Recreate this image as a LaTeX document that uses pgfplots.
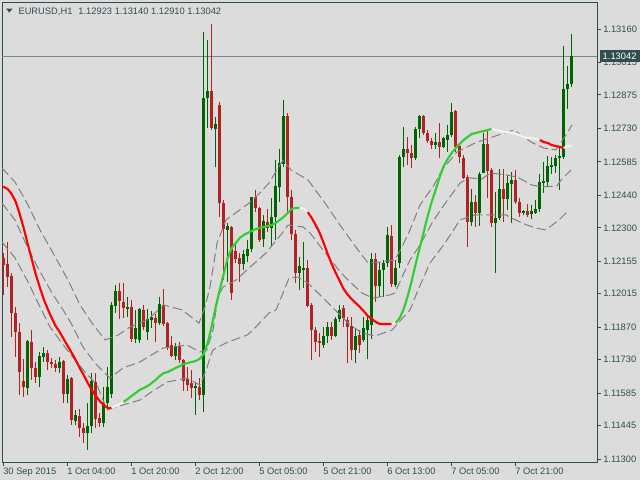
\documentclass[border=0pt]{standalone}
\usepackage{fontspec}
\setmainfont{Liberation Sans}
\usepackage{pgfplots}
\usepackage{pgfplotstable}
\pgfplotsset{compat=1.18}

\definecolor{chartbg}{HTML}{DCDCDC}
\definecolor{fg}{HTML}{2F4F4F}
\definecolor{bull}{HTML}{006400}
\definecolor{bear}{HTML}{B22222}
\definecolor{maup}{HTML}{32CD32}
\definecolor{madn}{HTML}{FF0000}
\definecolor{maflat}{HTML}{FAF0E6}
\definecolor{band}{HTML}{808080}
\definecolor{pline}{HTML}{778899}

% EURUSD H1 bars, index 0 = 30 Sep 2015 12:00
\pgfplotstableread{
i o h l c
6 1.11607 1.11815 1.11577 1.11810
9 1.11655 1.11763 1.11611 1.11746
10 1.11743 1.11784 1.11720 1.11759
14 1.11694 1.11741 1.11672 1.11720
16 1.11581 1.11663 1.11542 1.11646
18 1.11464 1.11512 1.11447 1.11490
21 1.11412 1.11542 1.11339 1.11443
22 1.11443 1.11672 1.11412 1.11637
25 1.11456 1.11611 1.11438 1.11542
26 1.11542 1.11698 1.11512 1.11611
27 1.11580 1.11979 1.11564 1.11966
28 1.11960 1.12053 1.11932 1.12027
31 1.11949 1.12001 1.11914 1.11958
33 1.11819 1.11945 1.11802 1.11867
34 1.11815 1.11953 1.11802 1.11949
36 1.11849 1.11949 1.11815 1.11906
37 1.11901 1.11940 1.11867 1.11914
39 1.11888 1.12001 1.11880 1.11971
43 1.11746 1.11802 1.11728 1.11789
48 1.11607 1.11633 1.11490 1.11616
50 1.11577 1.13147 1.11503 1.12862
51 1.12862 1.13113 1.12732 1.12892
53 1.12728 1.12779 1.12563 1.12749
56 1.12291 1.12321 1.12066 1.12308
60 1.12144 1.12204 1.12118 1.12187
61 1.12180 1.12247 1.12152 1.12209
62 1.12209 1.12435 1.12195 1.12433
65 1.12250 1.12356 1.12217 1.12330
67 1.12299 1.12429 1.12217 1.12347
68 1.12347 1.12593 1.12247 1.12481
69 1.12475 1.12641 1.12412 1.12580
70 1.12578 1.12853 1.12563 1.12784
74 1.12105 1.12174 1.12031 1.12135
75 1.12118 1.12239 1.12040 1.12126
80 1.11793 1.11871 1.11780 1.11832
81 1.11832 1.11893 1.11802 1.11871
83 1.11832 1.11914 1.11828 1.11906
84 1.11906 1.11966 1.11893 1.11945
88 1.11772 1.11867 1.11715 1.11832
90 1.11815 1.11914 1.11806 1.11867
91 1.11858 1.11914 1.11733 1.11901
92 1.11880 1.12191 1.11819 1.12165
94 1.12048 1.12152 1.12001 1.12118
95 1.12118 1.12161 1.12001 1.12148
96 1.12148 1.12304 1.12131 1.12269
98 1.12053 1.12161 1.12044 1.12126
99 1.12150 1.12615 1.12126 1.12606
100 1.12606 1.12736 1.12563 1.12641
103 1.12602 1.12736 1.12593 1.12728
104 1.12726 1.12788 1.12689 1.12784
108 1.12658 1.12710 1.12641 1.12671
110 1.12650 1.12693 1.12645 1.12689
111 1.12680 1.12745 1.12628 1.12702
112 1.12700 1.12840 1.12693 1.12801
117 1.12325 1.12468 1.12308 1.12412
119 1.12362 1.12542 1.12308 1.12533
120 1.12535 1.12710 1.12535 1.12663
123 1.12321 1.12455 1.12105 1.12343
124 1.12343 1.12555 1.12334 1.12468
126 1.12425 1.12529 1.12377 1.12494
127 1.12490 1.12542 1.12321 1.12507
130 1.12364 1.12377 1.12356 1.12373
132 1.12358 1.12399 1.12338 1.12373
133 1.12364 1.12420 1.12360 1.12382
134 1.12382 1.12533 1.12368 1.12498
135 1.12494 1.12585 1.12451 1.12503
136 1.12498 1.12611 1.12477 1.12567
137 1.12563 1.12606 1.12533 1.12572
138 1.12567 1.12615 1.12537 1.12602
139 1.12602 1.12645 1.12464 1.12611
140 1.12606 1.13087 1.12598 1.12901
141 1.12901 1.13000 1.12814 1.12923
142 1.12923 1.13140 1.12910 1.13042
}\bulls

\pgfplotstableread{
i o h l c
0 1.12170 1.12191 1.12010 1.12139
1 1.12144 1.12239 1.12044 1.12087
2 1.12090 1.12105 1.11828 1.11932
3 1.11932 1.11958 1.11741 1.11849
4 1.11851 1.11888 1.11577 1.11676
5 1.11637 1.11733 1.11568 1.11611
7 1.11806 1.11858 1.11642 1.11694
8 1.11694 1.11720 1.11629 1.11655
11 1.11759 1.11772 1.11685 1.11720
12 1.11720 1.11737 1.11694 1.11711
13 1.11711 1.11728 1.11676 1.11694
15 1.11724 1.11728 1.11542 1.11581
17 1.11650 1.11655 1.11447 1.11469
19 1.11488 1.11516 1.11395 1.11434
20 1.11434 1.11456 1.11369 1.11412
23 1.11633 1.11672 1.11434 1.11473
24 1.11477 1.11499 1.11438 1.11456
29 1.12027 1.12061 1.11906 1.11984
30 1.11979 1.12061 1.11910 1.11953
32 1.11958 1.11988 1.11806 1.11819
35 1.11945 1.11966 1.11858 1.11871
38 1.11910 1.11927 1.11806 1.11888
40 1.11966 1.12035 1.11875 1.11884
41 1.11888 1.11893 1.11772 1.11784
42 1.11793 1.11832 1.11741 1.11746
44 1.11789 1.11806 1.11715 1.11728
45 1.11728 1.11733 1.11594 1.11637
46 1.11646 1.11698 1.11594 1.11620
47 1.11629 1.11685 1.11564 1.11607
49 1.11611 1.11650 1.11555 1.11577
52 1.12892 1.13182 1.12725 1.12732
54 1.12831 1.12844 1.12347 1.12407
55 1.12407 1.12420 1.12074 1.12295
57 1.12304 1.12308 1.11988 1.12018
58 1.12200 1.12234 1.12148 1.12165
59 1.12170 1.12191 1.12066 1.12144
63 1.12433 1.12464 1.12368 1.12386
64 1.12386 1.12390 1.12239 1.12247
66 1.12327 1.12382 1.12282 1.12299
71 1.12784 1.12797 1.12368 1.12433
72 1.12435 1.12464 1.12247 1.12273
73 1.12273 1.12291 1.12061 1.12105
76 1.12126 1.12161 1.11958 1.11962
77 1.11966 1.11975 1.11728 1.11858
78 1.11860 1.11871 1.11763 1.11806
79 1.11810 1.11845 1.11741 1.11802
82 1.11871 1.11893 1.11815 1.11832
85 1.11953 1.11966 1.11871 1.11910
86 1.11901 1.11914 1.11715 1.11871
87 1.11875 1.11914 1.11728 1.11772
89 1.11836 1.11858 1.11759 1.11793
93 1.12165 1.12191 1.11979 1.12048
97 1.12265 1.12312 1.12044 1.12057
101 1.12641 1.12693 1.12572 1.12624
102 1.12624 1.12658 1.12559 1.12602
105 1.12784 1.12788 1.12702 1.12710
106 1.12712 1.12723 1.12667 1.12676
107 1.12676 1.12689 1.12641 1.12658
109 1.12671 1.12753 1.12602 1.12650
113 1.12805 1.12810 1.12628 1.12650
114 1.12654 1.12667 1.12580 1.12606
115 1.12602 1.12615 1.12511 1.12516
116 1.12520 1.12529 1.12217 1.12325
118 1.12412 1.12442 1.12304 1.12364
121 1.12663 1.12728 1.12429 1.12546
122 1.12550 1.12559 1.12304 1.12321
125 1.12470 1.12555 1.12325 1.12425
128 1.12507 1.12550 1.12403 1.12412
129 1.12412 1.12429 1.12347 1.12364
131 1.12373 1.12403 1.12347 1.12356
}\bears

\begin{document}
\begin{tikzpicture}[font=\fontsize{7}{8}\selectfont]
\useasboundingbox (0,0) rectangle (480pt,360pt);
\fill[chartbg] (0,0) rectangle (480pt,360pt);
\begin{axis}[
    at={(1.5pt,13.5pt)}, anchor=south west,
    scale only axis, width=446.25pt, height=345pt,
    xmin=-0.425, xmax=148.325,
    ymin=1.112871, ymax=1.132768,
    axis line style={fg, line width=0.75pt},
    xtick pos=left, ytick pos=right, yticklabel pos=right,
    tick align=outside, major tick length=3pt,
    tick style={fg, line width=0.75pt},
    xtick={0,16,32,48,64,80,96,112,128},
    xticklabels={30 Sep 2015,1 Oct 04:00,1 Oct 20:00,2 Oct 12:00,5 Oct 05:00,5 Oct 21:00,6 Oct 13:00,7 Oct 05:00,7 Oct 21:00},
    ytick={1.11300,1.11445,1.11585,1.11730,1.11870,1.12015,1.12155,1.12300,1.12440,1.12585,1.12730,1.12875,1.13015,1.13160},
    yticklabels={1.11300,1.11445,1.11585,1.11730,1.11870,1.12015,1.12155,1.12300,1.12440,1.12585,1.12730,1.12875,1.13015,1.13160},
    tick label style={text=fg, font=\fontsize{7}{8}\selectfont},
    xticklabel style={anchor=north west, inner sep=0pt, xshift=-0.5pt, yshift=-1pt},
    yticklabel style={anchor=west, inner sep=0pt, xshift=1.5pt},
]
% current price line
\addplot[pline, line width=0.75pt] coordinates {(-0.425,1.13042) (148.325,1.13042)};

% candles: wicks, then bodies
\addplot[bull, line width=0.75pt, quiver={u=0, v=\thisrow{h}-\thisrow{l}}] table[x=i, y=l] {\bulls};
\addplot[bear, line width=0.75pt, quiver={u=0, v=\thisrow{h}-\thisrow{l}}] table[x=i, y=l] {\bears};
\addplot[bull, line width=2.25pt, quiver={u=0, v=\thisrow{c}-\thisrow{o}}] table[x=i, y=o] {\bulls};
\addplot[bear, line width=2.25pt, quiver={u=0, v=\thisrow{c}-\thisrow{o}}] table[x=i, y=o] {\bears};

% bands
\addplot[band, line width=0.75pt, dash pattern=on 7pt off 3pt] coordinates {
(-0.43,1.12559) (2.83,1.12498) (5.83,1.12407) (9.08,1.12291) (12.33,1.12191) (16.08,1.12074)
(19.08,1.11966) (22.08,1.11888) (25.33,1.11815) (28.58,1.11836) (31.58,1.11871) (35.83,1.11901)
(40.08,1.11966) (44.58,1.11945) (48.83,1.11888) (50.33,1.11958) (51.58,1.12044) (53.33,1.12234)
(55.58,1.12334) (57.33,1.12356) (61.33,1.12407) (64.08,1.12451) (66.33,1.12494) (69.83,1.12593)
(71.83,1.12550) (76.08,1.12507) (80.33,1.12407) (84.08,1.12312) (88.58,1.12204) (91.08,1.12148)
(94.08,1.12152) (97.83,1.12161) (99.58,1.12217) (101.58,1.12291) (104.08,1.12399) (107.58,1.12485)
(109.58,1.12550) (113.33,1.12628) (117.83,1.12667) (121.58,1.12689) (125.08,1.12710) (127.58,1.12723)
(131.83,1.12671) (135.08,1.12645) (138.08,1.12637) (140.58,1.12702) (142.08,1.12745)};
\addplot[band, line width=0.75pt, dash pattern=on 7pt off 3pt] coordinates {
(-0.43,1.12407) (2.83,1.12334) (5.33,1.12239) (8.58,1.12126) (12.08,1.12018) (15.33,1.11932)
(17.08,1.11880) (19.83,1.11784) (22.83,1.11715) (26.58,1.11650) (29.83,1.11694) (34.08,1.11720)
(39.83,1.11780) (45.83,1.11793) (49.08,1.11763) (50.83,1.11772) (52.33,1.11858) (53.58,1.12001)
(54.83,1.12044) (58.08,1.12074) (61.33,1.12126) (65.58,1.12191) (69.83,1.12282) (71.08,1.12312)
(74.83,1.12304) (76.58,1.12278) (79.83,1.12204) (84.33,1.12105) (86.58,1.12066) (89.58,1.12018)
(92.33,1.11996) (96.58,1.12010) (97.83,1.12018) (99.58,1.12087) (101.58,1.12161) (104.08,1.12226)
(107.08,1.12321) (110.08,1.12399) (114.08,1.12494) (116.33,1.12516) (119.58,1.12511) (121.58,1.12537)
(125.58,1.12529) (128.33,1.12520) (132.08,1.12485) (134.58,1.12477) (138.33,1.12481) (139.33,1.12507)
(141.83,1.12550)};
\addplot[band, line width=0.75pt, dash pattern=on 7pt off 3pt] coordinates {
(-0.43,1.12239) (2.83,1.12170) (6.08,1.12066) (8.58,1.11975) (11.58,1.11871) (15.83,1.11772)
(20.33,1.11676) (23.33,1.11620) (25.83,1.11512) (29.83,1.11534) (34.08,1.11555) (36.58,1.11586)
(40.83,1.11633) (45.83,1.11650) (49.08,1.11620) (50.83,1.11694) (51.58,1.11741) (52.33,1.11772)
(54.58,1.11793) (56.08,1.11806) (60.83,1.11836) (62.33,1.11858) (66.33,1.11932) (68.08,1.11945)
(69.83,1.12018) (71.33,1.12083) (73.58,1.12087) (76.08,1.12061) (79.08,1.12010) (83.58,1.11932)
(86.58,1.11880) (89.58,1.11845) (92.83,1.11832) (97.08,1.11858) (101.58,1.11945) (103.58,1.12031)
(106.58,1.12148) (110.33,1.12234) (114.08,1.12334) (117.83,1.12356) (120.83,1.12356) (125.58,1.12356)
(126.83,1.12343) (130.83,1.12312) (133.08,1.12299) (135.58,1.12291) (138.83,1.12334) (141.33,1.12377)};

% centred moving average, coloured by slope
\addplot[madn, line width=1.6pt] coordinates {
(-0.43,1.12477) (0,1.12477) (1,1.12468) (2,1.12446) (3,1.12412) (4,1.12360) (5,1.12299) (6,1.12230)
(7,1.12165) (8,1.12100) (9,1.12044) (10,1.11992) (11,1.11949) (12,1.11910) (13,1.11875)
(14,1.11849) (15,1.11819) (16,1.11789) (17,1.11759) (18,1.11728) (19,1.11694) (20,1.11663)
(21,1.11629) (22,1.11599) (23,1.11573) (24,1.11551) (25,1.11534) (26,1.11521) (27,1.11521)};
\addplot[maflat, line width=1.6pt] coordinates {
(27,1.11521) (28,1.11529) (29,1.11538) (30,1.11547)};
\addplot[maup, line width=1.6pt] coordinates {
(30,1.11547) (31,1.11560) (32,1.11573) (33,1.11586) (34,1.11599) (35,1.11607) (36,1.11616)
(37,1.11629) (38,1.11642) (39,1.11659) (40,1.11672) (41,1.11676) (42,1.11685) (43,1.11694)
(44,1.11702) (45,1.11711) (46,1.11715) (47,1.11720) (48,1.11724) (49,1.11733) (50,1.11754)
(51,1.11802) (52,1.11875) (53,1.11958) (54,1.12031) (55,1.12100) (56,1.12170) (57,1.12213)
(58,1.12234) (59,1.12256) (60,1.12269) (61,1.12278) (62,1.12286) (63,1.12295) (64,1.12299)
(65,1.12304) (66,1.12308) (67,1.12312) (68,1.12321) (69,1.12334) (70,1.12347) (71,1.12364)
(72,1.12382) (73,1.12386) (74,1.12386)};
\addplot[maflat, line width=1.6pt] coordinates {
(74,1.12386) (75,1.12382) (76,1.12368)};
\addplot[madn, line width=1.6pt] coordinates {
(76,1.12368) (77,1.12343) (78,1.12312) (79,1.12278) (80,1.12234) (81,1.12187) (82,1.12144)
(83,1.12105) (84,1.12070) (85,1.12035) (86,1.12010) (87,1.11992) (88,1.11975) (89,1.11958)
(90,1.11940) (91,1.11919) (92,1.11906) (93,1.11893) (94,1.11884) (95,1.11884) (96,1.11884)
(97,1.11884)};
\addplot[maflat, line width=1.6pt] coordinates {
(97,1.11884) (98,1.11888)};
\addplot[maup, line width=1.6pt] coordinates {
(98,1.11888) (99,1.11910) (100,1.11949) (101,1.12005) (102,1.12070) (103,1.12144) (104,1.12213)
(105,1.12282) (106,1.12351) (107,1.12412) (108,1.12464) (109,1.12520) (110,1.12567) (111,1.12598)
(112,1.12624) (113,1.12645) (114,1.12663) (115,1.12680) (116,1.12693) (117,1.12706) (118,1.12710)
(119,1.12715) (120,1.12719) (121,1.12723) (122,1.12728)};
\addplot[maflat, line width=1.6pt] coordinates {
(122,1.12728) (123,1.12723) (124,1.12719) (125,1.12715) (126,1.12715) (127,1.12710) (128,1.12706)
(129,1.12702) (130,1.12693) (131,1.12689) (132,1.12689) (133,1.12684) (134,1.12680)};
\addplot[madn, line width=1.6pt] coordinates {
(134,1.12680) (135,1.12671) (136,1.12667) (137,1.12658) (138,1.12654) (139,1.12650) (140,1.12645)};
\addplot[maflat, line width=1.6pt] coordinates {
(140,1.12645) (141,1.12654) (142,1.12654)};

\coordinate (cp) at (axis cs:148.325,1.13042);
\end{axis}

% chart title and current price tag
\fill[fg] (4.5pt,353.6pt) -- (9.5pt,353.6pt) -- (7pt,350.6pt) -- cycle;
\node[anchor=base west, inner sep=0pt, text=fg] at (13.7pt,349.2pt)
  {EURUSD,H1\hspace{4.5pt}1.12923 1.13140 1.12910 1.13042};
\node[fill=fg, text=white, anchor=west, inner xsep=2.4pt, inner ysep=0pt, minimum height=9pt]
  at ([xshift=1.7pt]cp) {1.13042};
\end{tikzpicture}
\end{document}
